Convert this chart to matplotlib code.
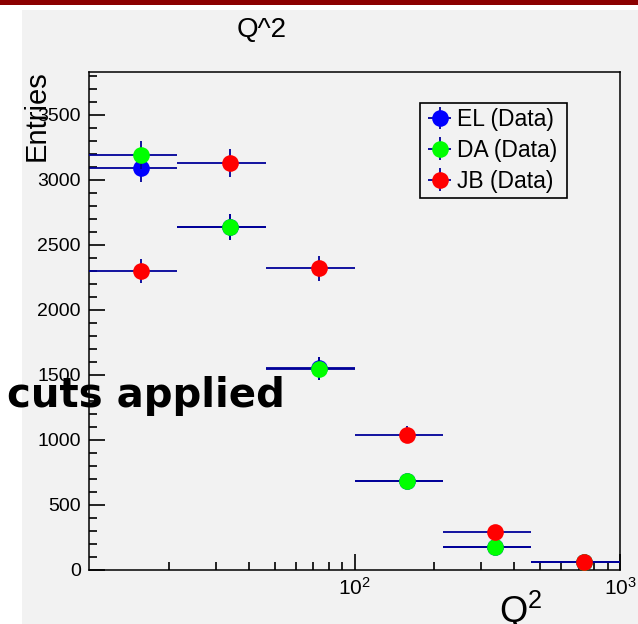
import matplotlib
matplotlib.use("Agg")
import matplotlib.pyplot as plt
import numpy as np
from matplotlib.patches import Rectangle
from matplotlib.ticker import FixedLocator, MultipleLocator, NullFormatter

# Q^2 binning (3 bins per decade) and entries per reconstruction method
q2_edges = [10, 21.5, 46.4, 100, 215, 464, 1000]
el_counts = [3090, 2635, 1550, 685, 177, 62]
da_counts = [3195, 2635, 1548, 685, 177, 62]
jb_counts = [2300, 3130, 2321, 1040, 290, 65]
el_errors = [103, 100, 90, 52, 27, 16]
da_errors = [108, 100, 90, 52, 27, 16]
jb_errors = [92, 108, 96, 64, 34, 16]
series_labels = ["EL (Data)", "DA (Data)", "JB (Data)"]
series_colors = ["#0000ff", "#00ff00", "#ff0000"]

plt.rcParams["font.family"] = ["Liberation Sans", "DejaVu Sans"]
plt.rcParams["mathtext.default"] = "regular"

W, H = 638, 624
canvas_gray = "#f2f2f2"
bar_color = "#000099"


def px(x, y):
    """pixel position (from top left) -> figure fraction"""
    return x / W, 1 - y / H


def plot_series(ax, edges, counts, errors, color, label, z):
    edges = np.asarray(edges, dtype=float)
    lo, hi = edges[:-1], edges[1:]
    centers = (lo + hi) / 2
    return ax.errorbar(
        centers,
        counts,
        xerr=[centers - lo, hi - centers],
        yerr=errors,
        fmt="o",
        color=color,
        markersize=12,
        markeredgewidth=0,
        ecolor=bar_color,
        elinewidth=1.3,
        capsize=0,
        label=label,
        zorder=z,
    )


fig = plt.figure(figsize=(W / 100, H / 100), dpi=100)
fig.patch.set_facecolor("white")

# ROOT style canvas and the red strip at the top
fig.patches.append(
    Rectangle(px(22, H), 1 - 22 / W, 1 - 10 / H, transform=fig.transFigure,
              facecolor=canvas_gray, edgecolor="none", zorder=-2)
)
fig.patches.append(
    Rectangle(px(0, 4.5), 1, 4.5 / H, transform=fig.transFigure,
              facecolor="#8b0000", edgecolor="none", zorder=-1)
)

x0, y0 = px(89, 570)
x1, y1 = px(620, 72)
ax = fig.add_axes([x0, y0, x1 - x0, y1 - y0])
ax.set_facecolor(canvas_gray)

handles = []
all_counts = [el_counts, da_counts, jb_counts]
all_errors = [el_errors, da_errors, jb_errors]
for i, (counts, errors) in enumerate(zip(all_counts, all_errors)):
    h = plot_series(ax, q2_edges, counts, errors, series_colors[i], series_labels[i], 2 + i)
    handles.append(h)

ax.set_xscale("log")
ax.set_xlim(10, 1000)
ax.set_ylim(0, 3830)

ax.xaxis.set_major_locator(FixedLocator([100, 1000]))
ax.set_xticklabels([r"$10^{2}$", r"$10^{3}$"])
ax.xaxis.set_minor_locator(FixedLocator([20, 30, 40, 50, 60, 70, 80, 90,
                                         200, 300, 400, 500, 600, 700, 800, 900]))
ax.xaxis.set_minor_formatter(NullFormatter())
ax.yaxis.set_major_locator(MultipleLocator(500))
ax.yaxis.set_minor_locator(MultipleLocator(100))

ax.tick_params(which="both", direction="in", top=False, right=False,
               labelsize=14, color="black", width=1.2)
ax.tick_params(which="major", length=11.5)
ax.tick_params(which="minor", length=6)
ax.tick_params(axis="x", pad=5, labelsize=15)
ax.tick_params(axis="y", pad=6)
for sp in ax.spines.values():
    sp.set_linewidth(1.1)
    sp.set_color("black")

# legend box spans 420..567 px across, 103..197 px down
lx0 = (420 - 89) / 531
lx1 = (567 - 89) / 531
ly0 = (570 - 197) / 498
ly1 = (570 - 103) / 498
leg = ax.legend(
    handles=handles,
    loc="upper left",
    bbox_to_anchor=(lx0, ly0, lx1 - lx0, ly1 - ly0),
    mode="expand",
    borderaxespad=0,
    fontsize=16.5,
    handlelength=1.3,
    handletextpad=0.1,
    labelspacing=0.34,
    borderpad=0.22,
    fancybox=False,
    framealpha=1,
    facecolor=canvas_gray,
    edgecolor="black",
)
leg.get_frame().set_linewidth(1.2)

fig.text(*px(262, 30), "Q^2", ha="center", va="center", fontsize=20)
fig.text(*px(37, 70), "Entries", rotation=90, ha="center", va="top", fontsize=21)
fig.text(*px(499, 623), r"Q$^{2}$", ha="left", va="baseline", fontsize=26)
fig.text(*px(7, 407), "cuts applied", ha="left", va="baseline",
         family="DejaVu Sans", weight="bold", fontsize=29, zorder=10)

fig.savefig("out.png", dpi=100)
